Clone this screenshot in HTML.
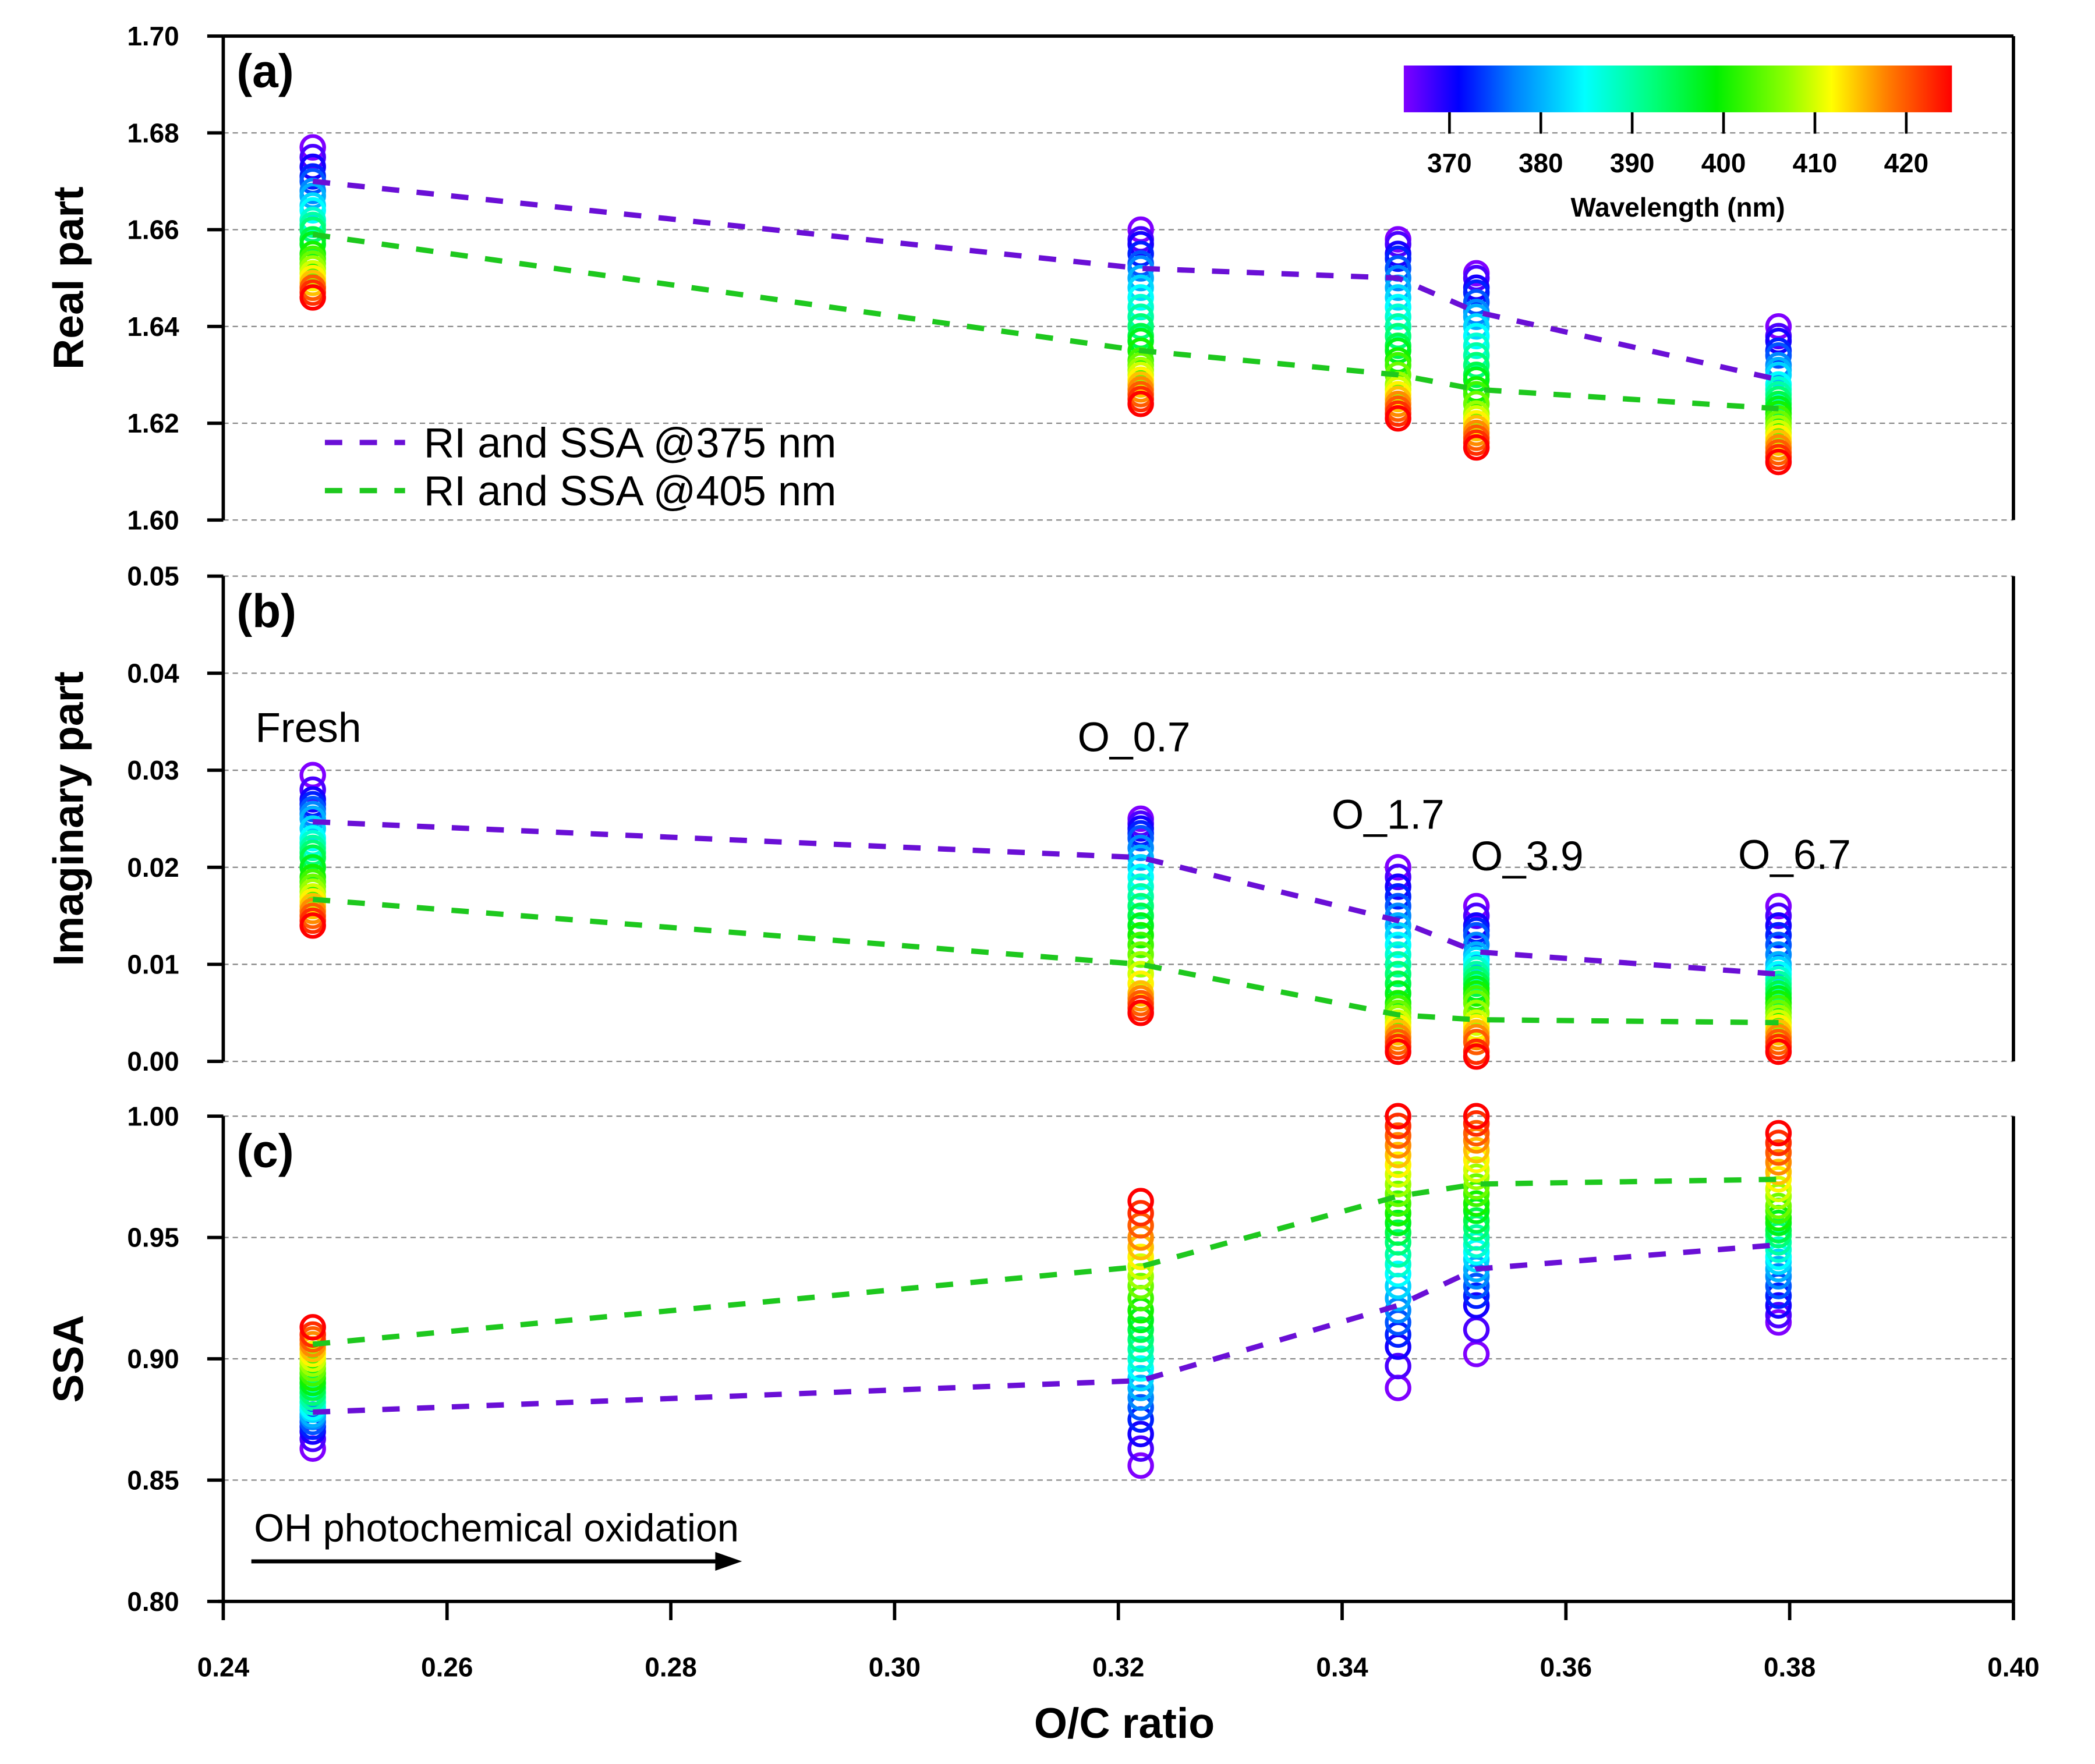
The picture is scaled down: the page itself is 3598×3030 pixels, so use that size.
<!DOCTYPE html>
<html><head><meta charset="utf-8"><style>
html,body{margin:0;padding:0;background:#fff}
svg{display:block}
text{font-family:"Liberation Sans",Arial,sans-serif}
.tk{font-size:20px;font-weight:bold;text-anchor:end}
.xt{font-size:20px;font-weight:bold;text-anchor:middle}
.ttl{font-size:32px;font-weight:bold;text-anchor:middle}
.ann{font-size:31px}
</style></head><body>
<svg id="chart" width="3598" height="3030" viewBox="0 0 1567 1319.6" xmlns="http://www.w3.org/2000/svg">
<defs>
<linearGradient id="cbg" x1="0" x2="1" y1="0" y2="0">
<stop offset="0" stop-color="#8000ff"/><stop offset="0.1" stop-color="#0000ff"/><stop offset="0.2" stop-color="#0080ff"/><stop offset="0.33" stop-color="#00ffff"/><stop offset="0.45" stop-color="#00ff80"/><stop offset="0.57" stop-color="#00f000"/><stop offset="0.7" stop-color="#90ff00"/><stop offset="0.78" stop-color="#ffff00"/><stop offset="0.88" stop-color="#ff8000"/><stop offset="1" stop-color="#ff0000"/>
</linearGradient>
</defs>
<g id="axes"></g>
<g id="marks"></g>
<g id="overlay"></g>
</svg>
<script>
const groupX = [0.248, 0.322, 0.345, 0.352, 0.379];
const groupNames = ["fresh", "o-0.7", "o-1.7", "o-3.9", "o-6.7"];
const wavelengths = [365,367.5,370,372.5,375,377.5,380,382.5,385,387.5,390,392.5,395,397.5,400,402.5,405,407.5,410,412.5,415,417.5,420,422.5,425];
const realVals = [
 [1.677,1.675,1.673,1.671,1.670,1.668,1.667,1.665,1.664,1.662,1.661,1.660,1.658,1.657,1.655,1.654,1.653,1.652,1.651,1.650,1.649,1.648,1.648,1.647,1.646],
 [1.660,1.658,1.657,1.655,1.653,1.652,1.650,1.648,1.646,1.644,1.642,1.640,1.638,1.637,1.635,1.633,1.632,1.631,1.630,1.629,1.628,1.627,1.626,1.625,1.624],
 [1.658,1.657,1.655,1.654,1.652,1.650,1.648,1.646,1.644,1.642,1.640,1.638,1.636,1.635,1.633,1.632,1.630,1.628,1.627,1.626,1.625,1.624,1.623,1.622,1.621],
 [1.651,1.650,1.648,1.647,1.645,1.643,1.642,1.640,1.638,1.636,1.634,1.632,1.630,1.629,1.627,1.626,1.624,1.622,1.621,1.620,1.619,1.618,1.617,1.616,1.615],
 [1.640,1.638,1.637,1.635,1.634,1.632,1.631,1.630,1.628,1.627,1.626,1.625,1.624,1.623,1.622,1.621,1.620,1.619,1.618,1.617,1.616,1.615,1.614,1.613,1.612]];
const imagVals = [
 [0.0295,0.028,0.027,0.0265,0.026,0.0255,0.025,0.024,0.023,0.0225,0.022,0.0215,0.021,0.020,0.019,0.0185,0.018,0.0175,0.017,0.0165,0.016,0.0155,0.015,0.0145,0.014],
 [0.025,0.0245,0.024,0.0235,0.023,0.022,0.021,0.020,0.019,0.018,0.017,0.016,0.015,0.014,0.013,0.012,0.011,0.010,0.009,0.008,0.007,0.0065,0.006,0.0055,0.005],
 [0.020,0.019,0.018,0.017,0.016,0.015,0.014,0.013,0.012,0.011,0.010,0.009,0.008,0.007,0.006,0.0055,0.005,0.0045,0.004,0.0035,0.003,0.0025,0.002,0.0015,0.001],
 [0.016,0.015,0.014,0.0135,0.013,0.012,0.011,0.0105,0.010,0.0095,0.009,0.0085,0.008,0.0075,0.007,0.0065,0.006,0.005,0.004,0.0035,0.003,0.0025,0.002,0.001,0.0005],
 [0.016,0.015,0.014,0.013,0.012,0.011,0.010,0.0095,0.009,0.0085,0.008,0.0075,0.007,0.0065,0.006,0.0055,0.005,0.0045,0.004,0.0035,0.003,0.0025,0.002,0.0015,0.001]];
const ssaVals = [
 [0.863,0.867,0.870,0.872,0.874,0.876,0.877,0.879,0.880,0.882,0.884,0.886,0.888,0.890,0.892,0.894,0.896,0.898,0.900,0.902,0.904,0.906,0.908,0.910,0.913],
 [0.856,0.863,0.869,0.875,0.880,0.884,0.888,0.892,0.896,0.900,0.904,0.908,0.912,0.916,0.920,0.925,0.930,0.934,0.938,0.942,0.946,0.950,0.955,0.960,0.965],
 [0.888,0.897,0.905,0.910,0.915,0.920,0.925,0.930,0.935,0.939,0.943,0.948,0.952,0.956,0.960,0.964,0.968,0.972,0.976,0.980,0.984,0.988,0.992,0.996,1.000],
 [0.902,0.912,0.922,0.926,0.930,0.934,0.937,0.941,0.944,0.947,0.950,0.954,0.957,0.961,0.964,0.968,0.971,0.975,0.978,0.982,0.986,0.990,0.993,0.997,1.000],
 [0.915,0.918,0.922,0.926,0.930,0.934,0.937,0.940,0.942,0.945,0.948,0.951,0.953,0.956,0.958,0.961,0.963,0.967,0.970,0.974,0.977,0.981,0.985,0.989,0.993]];
const real375 = [1.670,1.652,1.650,1.643,1.629];
const real405 = [1.659,1.635,1.630,1.627,1.623];
const imag375 = [0.0247,0.021,0.0145,0.0113,0.009];
const imag405 = [0.0167,0.0100,0.0048,0.0043,0.0040];
const ssa375 = [0.878,0.891,0.922,0.937,0.947];
const ssa405 = [0.906,0.938,0.967,0.972,0.974];
const xTicks = [0.24,0.26,0.28,0.30,0.32,0.34,0.36,0.38,0.40];
const realTicks = [1.60,1.62,1.64,1.66,1.68,1.70];
const imagTicks = [0.00,0.01,0.02,0.03,0.04,0.05];
const ssaTicks = [0.80,0.85,0.90,0.95,1.00];
const cbTicks = [370,380,390,400,410,420];

const NS="http://www.w3.org/2000/svg";
const axes=document.getElementById('axes'), marks=document.getElementById('marks'), overlay=document.getElementById('overlay');
function mk(tag,attrs,parent,txt){const e=document.createElementNS(NS,tag);for(const k in attrs)e.setAttribute(k,attrs[k]);if(txt!==undefined)e.textContent=txt;parent.appendChild(e);return e;}
const X0=167,X1=1506;
const xs=v=>X0+(v-0.24)/0.16*(X1-X0);
const panels=[
 {key:'real',top:27,bot:389,min:1.60,max:1.70,ticks:realTicks,dec:2,vals:realVals,l1:real375,l2:real405,title:'Real part',lab:'(a)'},
 {key:'imag',top:431,bot:794,min:0,max:0.05,ticks:imagTicks,dec:2,vals:imagVals,l1:imag375,l2:imag405,title:'Imaginary part',lab:'(b)'},
 {key:'ssa',top:835,bot:1198,min:0.80,max:1.00,ticks:ssaTicks,dec:2,vals:ssaVals,l1:ssa375,l2:ssa405,title:'SSA',lab:'(c)'}];
const stops=[[365,[128,0,255]],[371,[0,0,255]],[377,[0,128,255]],[385,[0,255,255]],[392,[0,255,128]],[399,[0,240,0]],[407,[144,255,0]],[412,[255,255,0]],[418,[255,128,0]],[425,[255,0,0]]];
function wcol(w){for(let i=0;i<stops.length-1;i++){const[a,ca]=stops[i],[b,cb]=stops[i+1];if(w<=b){const t=(w-a)/(b-a);return 'rgb('+ca.map((c,j)=>Math.round(c+(cb[j]-c)*t)).join(',')+')';}}return 'rgb(255,0,0)';}

panels.forEach(p=>{
 const ys=v=>p.bot-(v-p.min)/(p.max-p.min)*(p.bot-p.top);
 p.ticks.forEach(t=>{
  const y=ys(t);
  const g=mk('line',{x1:X0,x2:X1,y1:y,y2:y,stroke:'#888','stroke-width':1,'stroke-dasharray':'4 3'},axes);
  
  
  const tk=mk('line',{x1:X0-12,x2:X0,y1:y,y2:y,stroke:'#000','stroke-width':2.5},axes);
  
  
  const tl=mk('text',{x:X0-33,y:y+7,class:'tk'},axes,t.toFixed(p.dec));
  
  
 });
 const la=mk('line',{x1:X0,x2:X0,y1:p.top,y2:p.bot,stroke:'#000','stroke-width':2.5},axes);
 
 
 const ra=mk('line',{x1:X1,x2:X1,y1:p.top,y2:p.bot,stroke:'#000','stroke-width':2.5},axes);
 
 
 const cy=(p.top+p.bot)/2;
 const tt=mk('text',{x:0,y:0,class:'ttl',transform:'translate(62,'+cy+') rotate(-90)'},axes,p.title);
 
 
 const pl=mk('text',{x:177,y:p.top+38,'font-size':'35','font-weight':'bold'},overlay,p.lab);
 
 
 p.vals.forEach((arr,gi)=>{
  arr.forEach((v,wi)=>{
   const c=mk('circle',{cx:xs(groupX[gi]),cy:ys(v),r:8.5,fill:'none',stroke:wcol(wavelengths[wi]),'stroke-width':2.8},marks);
   
   
  });
 });
 [[p.l1,'#6a0fd6','375'],[p.l2,'#1ec81e','405']].forEach(([arr,col,nm])=>{
  const d=arr.map((v,i)=>(i?'L':'M')+xs(groupX[i]).toFixed(1)+' '+ys(v).toFixed(1)).join(' ');
  const pa=mk('path',{d:d,fill:'none',stroke:col,'stroke-width':4,'stroke-dasharray':'13 13'},overlay);
  
  
 });
});
const tb=mk('line',{x1:X0,x2:X1,y1:27,y2:27,stroke:'#000','stroke-width':2.5},axes);


const xa=mk('line',{x1:X0-4,x2:X1,y1:1198,y2:1198,stroke:'#000','stroke-width':2.5},axes);


xTicks.forEach(t=>{
 const x=xs(t);
 const tk=mk('line',{x1:x,x2:x,y1:1198,y2:1212,stroke:'#000','stroke-width':2.5},axes);
 
 
 const tl=mk('text',{x:x,y:1254,class:'xt'},axes,t.toFixed(2));
 
 
});
const xt=mk('text',{x:841,y:1300,class:'ttl'},axes,'O/C ratio');


const cb=mk('rect',{x:1050,y:49,width:410,height:35,fill:'url(#cbg)'},overlay);


const wx=w=>1050+(w-365)/60*410;
cbTicks.forEach(w=>{
 const tk=mk('line',{x1:wx(w),x2:wx(w),y1:84,y2:100,stroke:'#000','stroke-width':2},overlay);
 
 
 const tl=mk('text',{x:wx(w),y:129,class:'xt'},overlay,String(w));
 
 
});
const cbt=mk('text',{x:1255,y:162,class:'xt','font-size':'21'},overlay,'Wavelength (nm)');


[['#6a0fd6','RI and SSA @375 nm',331],['#1ec81e','RI and SSA @405 nm',367]].forEach(([c,t,y])=>{
 const l=mk('line',{x1:243,x2:303,y1:y,y2:y,stroke:c,'stroke-width':4,'stroke-dasharray':'13 13'},overlay);
 
 
 const tx=mk('text',{x:317,y:y+11,'font-size':'31.5'},overlay,t);
 
 
});
[['Fresh',191,555],['O_0.7',806,562],['O_1.7',996,620],['O_3.9',1100,651],['O_6.7',1300,650]].forEach(([t,x,y])=>{
 const a=mk('text',{x:x,y:y,class:'ann'},overlay,t);
 
 
});
const oh=mk('text',{x:190,y:1153,'font-size':'29'},overlay,'OH photochemical oxidation');


const ar=mk('line',{x1:188,x2:540,y1:1168,y2:1168,stroke:'#000','stroke-width':3},overlay);


const ah=mk('polygon',{points:'555,1168 535,1161 535,1175',fill:'#000'},overlay);


</script>
</body></html>
